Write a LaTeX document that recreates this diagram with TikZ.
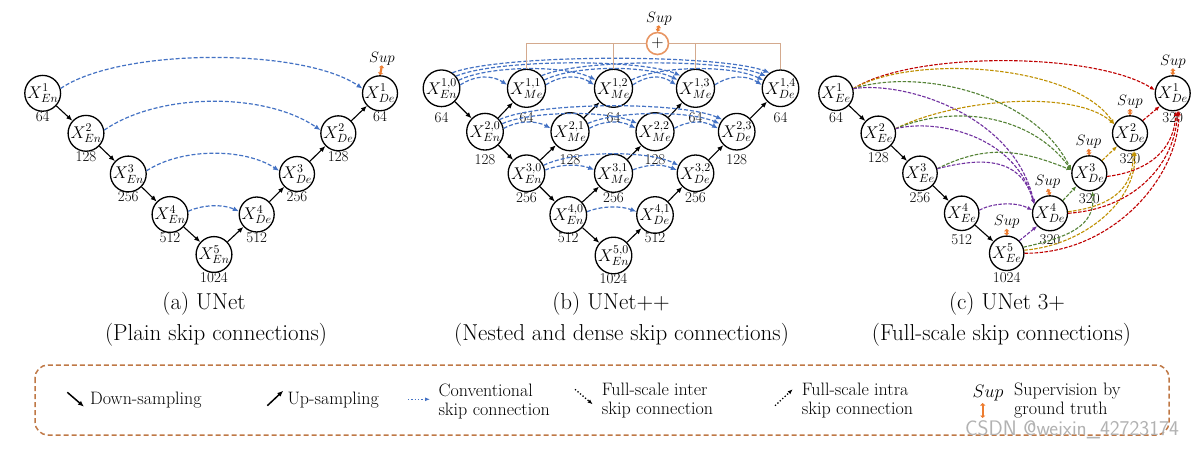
\RequirePackage{fix-cm}
\documentclass[tikz,border=0pt]{standalone}
\usepackage{fontspec}
\usetikzlibrary{arrows.meta}
\definecolor{skipblue}{RGB}{68,114,196}
\definecolor{suporange}{RGB}{237,125,49}
\definecolor{boxbrown}{RGB}{191,120,70}
\definecolor{sumline}{RGB}{212,170,142}
\definecolor{sumc}{RGB}{232,150,100}
\definecolor{cred}{RGB}{192,0,0}
\definecolor{cgold}{RGB}{191,144,0}
\definecolor{cgreen}{RGB}{84,130,53}
\definecolor{cpurple}{RGB}{112,48,160}
\tikzset{
 nd/.style={circle,draw,line width=1.3pt,minimum size=34pt,inner sep=0pt,font=\fontsize{17}{17}\selectfont},
 num/.style={font=\fontsize{15}{15}\selectfont,inner sep=0pt},
 conn/.style={-{Latex[length=6pt,width=5pt]},line width=1.1pt},
 skipb/.style={skipblue,line width=1.2pt,dash pattern=on 4pt off 2pt,-{Latex[length=6pt,width=5pt]}},
 ful/.style={line width=1.1pt,dash pattern=on 3.5pt off 1.5pt,-{Latex[length=5pt,width=4pt]}},
 supar/.style={suporange,line width=2.2pt,{Triangle[length=2.5pt,width=5pt]}-{Triangle[length=2.5pt,width=5pt]}},
 suptxt/.style={font=\fontsize{15}{15}\selectfont,inner sep=0pt},
 captxt/.style={font=\fontsize{23}{23}\selectfont,inner sep=0pt},
 legtxt/.style={font=\fontsize{18}{19}\selectfont,align=left,anchor=west,inner sep=0pt},
}
\newcommand\unode[6]{\node[nd] (#1) at (#2,#3) {$#4$};
  \node[num] (#1n) at (#2,#6) {#5};}
\newcommand\sk[7]{\draw[#1] (#2.#3) .. controls +(#6,-#7) and +(-#6,-#7) .. (#4.#5);}
\newcommand\supon[3]{\node[suptxt] (#1s) at (#2,#3) {$Sup$};
  \draw[supar] (#1s.south) -- (#1.north);}
\begin{document}
\begin{tikzpicture}[x=1pt,y=-1pt]
\useasboundingbox (0,0) rectangle (1203,449);
\fill[white] (0,0) rectangle (1203,449);

% ---------------- (a) UNet ----------------
\unode{a1}{42.7}{93.3}{X^{1}_{En}}{64}{117}
\unode{a2}{86}{133.3}{X^{2}_{En}}{128}{157}
\unode{a3}{128.3}{174}{X^{3}_{En}}{256}{197}
\unode{a4}{170}{214.5}{X^{4}_{En}}{512}{238}
\unode{a5}{214}{254.5}{X^{5}_{En}}{1024}{278}
\unode{a6}{256.7}{214.5}{X^{4}_{De}}{512}{238}
\unode{a7}{297}{174}{X^{3}_{De}}{256}{197}
\unode{a8}{338.3}{133.3}{X^{2}_{De}}{128}{157}
\unode{a9}{380}{93.3}{X^{1}_{De}}{64}{117}
\foreach \s/\t in {a1/a2,a2/a3,a3/a4,a4/a5,a5/a6,a6/a7,a7/a8,a8/a9} \draw[conn] (\s) -- (\t);
\sk{skipb}{a1}{15}{a9}{165}{60}{41}
\sk{skipb}{a2}{10}{a8}{170}{55}{38}
\sk{skipb}{a3}{10}{a7}{170}{35}{23}
\sk{skipb}{a4}{10}{a6}{170}{15}{7}
\supon{a9}{382}{58.5}
\node[captxt] (capa1) at (204,304) {(a) UNet};
\node[captxt] (capa2) at (216,335) {(Plain skip connections)};

% ---------------- (b) UNet++ ----------------
\unode{b10}{441.5}{88.3}{X^{1,0}_{En}}{64}{118}
\unode{b11}{526.5}{88.3}{X^{1,1}_{Me}}{64}{118}
\unode{b12}{613.5}{88.3}{X^{1,2}_{Me}}{64}{118}
\unode{b13}{695.5}{88.3}{X^{1,3}_{Me}}{64}{118}
\unode{b14}{780.5}{88.3}{X^{1,4}_{De}}{64}{118}
\unode{b20}{485}{131.7}{X^{2,0}_{En}}{128}{160}
\unode{b21}{570}{131.7}{X^{2,1}_{Me}}{128}{160}
\unode{b22}{655}{131.7}{X^{2,2}_{Me}}{128}{160}
\unode{b23}{736.7}{131.7}{X^{2,3}_{De}}{128}{160}
\unode{b30}{526.5}{173.3}{X^{3,0}_{En}}{256}{198}
\unode{b31}{613.5}{173.3}{X^{3,1}_{Me}}{256}{198}
\unode{b32}{695.5}{173.3}{X^{3,2}_{De}}{256}{198}
\unode{b40}{568.3}{215}{X^{4,0}_{En}}{512}{238}
\unode{b41}{655}{215}{X^{4,1}_{De}}{512}{238}
\unode{b50}{613.5}{255.5}{X^{5,0}_{En}}{1024}{278.5}
\foreach \s/\t in {b10/b20,b20/b30,b30/b40,b40/b50,b20/b11,b21/b12,b22/b13,b23/b14,b30/b21,b31/b22,b32/b23,b40/b31,b41/b32,b50/b41} \draw[conn] (\s) -- (\t);
% row 1
\foreach \s/\t in {b10/b11,b11/b12,b12/b13,b13/b14} {\sk{skipb}{\s}{10}{\t}{170}{15}{10}}
\foreach \s/\t in {b10/b12,b11/b13,b12/b14} {\sk{skipb}{\s}{25}{\t}{155}{30}{15}}
\foreach \s/\t in {b10/b13,b11/b14} {\sk{skipb}{\s}{40}{\t}{140}{40}{17}}
\sk{skipb}{b10}{55}{b14}{125}{50}{19}
% row 2
\foreach \s/\t in {b20/b21,b21/b22,b22/b23} {\sk{skipb}{\s}{10}{\t}{170}{15}{8}}
\foreach \s/\t in {b20/b22,b21/b23} {\sk{skipb}{\s}{25}{\t}{155}{30}{13}}
\sk{skipb}{b20}{40}{b23}{140}{40}{18}
% row 3
\foreach \s/\t in {b30/b31,b31/b32} {\sk{skipb}{\s}{10}{\t}{170}{15}{6}}
\sk{skipb}{b30}{25}{b32}{155}{30}{15}
% row 4
\sk{skipb}{b40}{10}{b41}{170}{15}{6}
% deep supervision
\node[circle,draw=sumc,line width=1.6pt,minimum size=22pt,inner sep=0pt,font=\fontsize{17}{17}\selectfont] (bsum) at (657.5,43.5) {$+$};
\draw[sumline,line width=1.5pt] (b11.north) |- (bsum.west);
\draw[sumline,line width=1.5pt] (b12.north) |- (bsum.west);
\draw[sumline,line width=1.5pt] (b13.north) |- (bsum.east);
\draw[sumline,line width=1.5pt] (b14.north) |- (bsum.east);
\supon{bsum}{659}{18.5}
\node[captxt] (capb1) at (611,304) {(b) UNet++};
\node[captxt] (capb2) at (621.5,335) {(Nested and dense skip connections)};

% ---------------- (c) UNet 3+ ----------------
\unode{c1}{836}{93.3}{X^{1}_{Ee}}{64}{118}
\unode{c2}{878.3}{133.3}{X^{2}_{Ee}}{128}{158}
\unode{c3}{920}{173.3}{X^{3}_{Ee}}{256}{198}
\unode{c4}{961.7}{213.3}{X^{4}_{Ee}}{512}{240}
\unode{c5}{1006.7}{253.3}{X^{5}_{Ee}}{1024}{277.5}
\unode{c6}{1050}{213.3}{X^{4}_{De}}{320}{240}
\unode{c7}{1089.3}{173.3}{X^{3}_{De}}{320}{199}
\unode{c8}{1130}{133.3}{X^{2}_{De}}{320}{159}
\unode{c9}{1172.7}{93.3}{X^{1}_{De}}{320}{118}
\foreach \s/\t in {c1/c2,c2/c3,c3/c4,c4/c5} \draw[conn] (\s) -- (\t);
% inter skip connections (from encoders)
\draw[ful,cred] (c1.15) .. controls +(60,-38) and +(-60,-38) .. (c9.170);
\draw[ful,cgold] (c1.15) .. controls +(60,-35) and +(-40,-60) .. (c8.150);
\draw[ful,cgreen] (c1.15) .. controls +(60,-20) and +(-40,-80) .. (c7.170);
\draw[ful,cpurple] (c1.15) .. controls +(50,-8) and +(-20,-90) .. (c6.150);
\draw[ful,cgold] (c2.15) .. controls +(60,-30) and +(-40,-35) .. (c8.150);
\draw[ful,cgreen] (c2.15) .. controls +(60,-25) and +(-40,-55) .. (c7.170);
\draw[ful,cpurple] (c2.15) .. controls +(40,-10) and +(-20,-70) .. (c6.150);
\draw[ful,cgreen] (c3.15) .. controls +(50,-25) and +(-50,-20) .. (c7.170);
\draw[ful,cpurple] (c3.15) .. controls +(40,-10) and +(-15,-50) .. (c6.150);
\draw[ful,cpurple] (c4.10) .. controls +(15,-8) and +(-15,-8) .. (c6.170);
% intra skip connections (from deeper decoders)
\draw[ful,cpurple] (c5.45) -- (c6.225);
\draw[ful,cgreen] (c5.20) .. controls +(45,-10) and +(3,35) .. (c7.280);
\draw[ful,cgold] (c5.10) .. controls +(60,-5) and +(2,50) .. (c8.285);
\draw[ful,cred] (c5.0) .. controls +(90,0) and +(0,65) .. (c9.290);
\draw[ful,cgreen] (c6.45) -- (c7.225);
\draw[ful,cgold] (c6.5) .. controls +(40,-5) and +(0,40) .. (c8.280);
\draw[ful,cred] (c6.0) .. controls +(70,-5) and +(-2,50) .. (c9.285);
\draw[ful,cgold] (c7.45) -- (c8.225);
\draw[ful,cred] (c7.350) .. controls +(40,-5) and +(-2,40) .. (c9.280);
\draw[ful,cred] (c8.45) -- (c9.225);
\supon{c9}{1173}{61.5}
\supon{c8}{1130}{102}
\supon{c7}{1088.5}{142}
\supon{c6}{1047.5}{182}
\supon{c5}{1006.7}{222}
\node[captxt] (capc1) at (1007,304) {(c) UNet 3+};
\node[captxt] (capc2) at (1001.5,335) {(Full-scale skip connections)};

% ---------------- legend ----------------
\draw[boxbrown,line width=1.5pt,dash pattern=on 5pt off 3pt,rounded corners=13pt] (35,365) rectangle (1169,435);
\coordinate (l1a) at (67.3,392.3); \coordinate (l1b) at (84,406.7);
\draw[conn,line width=1.5pt] (l1a) -- (l1b);
\node[legtxt] (l1t) at (90,400) {Down-sampling};
\coordinate (l2a) at (267.3,405.7); \coordinate (l2b) at (283.3,390.7);
\draw[conn,line width=1.5pt] (l2a) -- (l2b);
\node[legtxt] (l2t) at (287.3,400) {Up-sampling};
\coordinate (l3a) at (408,399.3); \coordinate (l3b) at (430,399.3);
\draw[skipblue,line width=1.3pt,dotted,-{Latex[length=5pt,width=4pt]}] (l3a) -- (l3b);
\node[legtxt] (l3t) at (438.3,401) {Conventional\\skip connection};
\coordinate (l4a) at (575,389.3); \coordinate (l4b) at (592.7,404.3);
\draw[line width=1.3pt,dotted,-{Latex[length=5pt,width=4pt]}] (l4a) -- (l4b);
\node[legtxt] (l4t) at (601.7,401) {Full-scale inter\\skip connection};
\coordinate (l5a) at (775,405.7); \coordinate (l5b) at (792.7,389.3);
\draw[line width=1.3pt,dotted,-{Latex[length=5pt,width=4pt]}] (l5a) -- (l5b);
\node[legtxt] (l5t) at (801.7,401) {Full-scale intra\\skip connection};
\node[font=\fontsize{18}{18}\selectfont,inner sep=0pt] (l6s) at (988,393) {$Sup$};
\coordinate (l6a) at (982.7,403); \coordinate (l6b) at (982.7,418);
\draw[supar] (l6a) -- (l6b);
\node[legtxt] (l6t) at (1014,401) {Supervision by\\ground truth};
\node[font=\sffamily\fontsize{21}{21}\selectfont,text=black!30,inner sep=0pt] (wm) at (1072,430) {CSDN @weixin\_42723174};
\end{tikzpicture}
\end{document}
